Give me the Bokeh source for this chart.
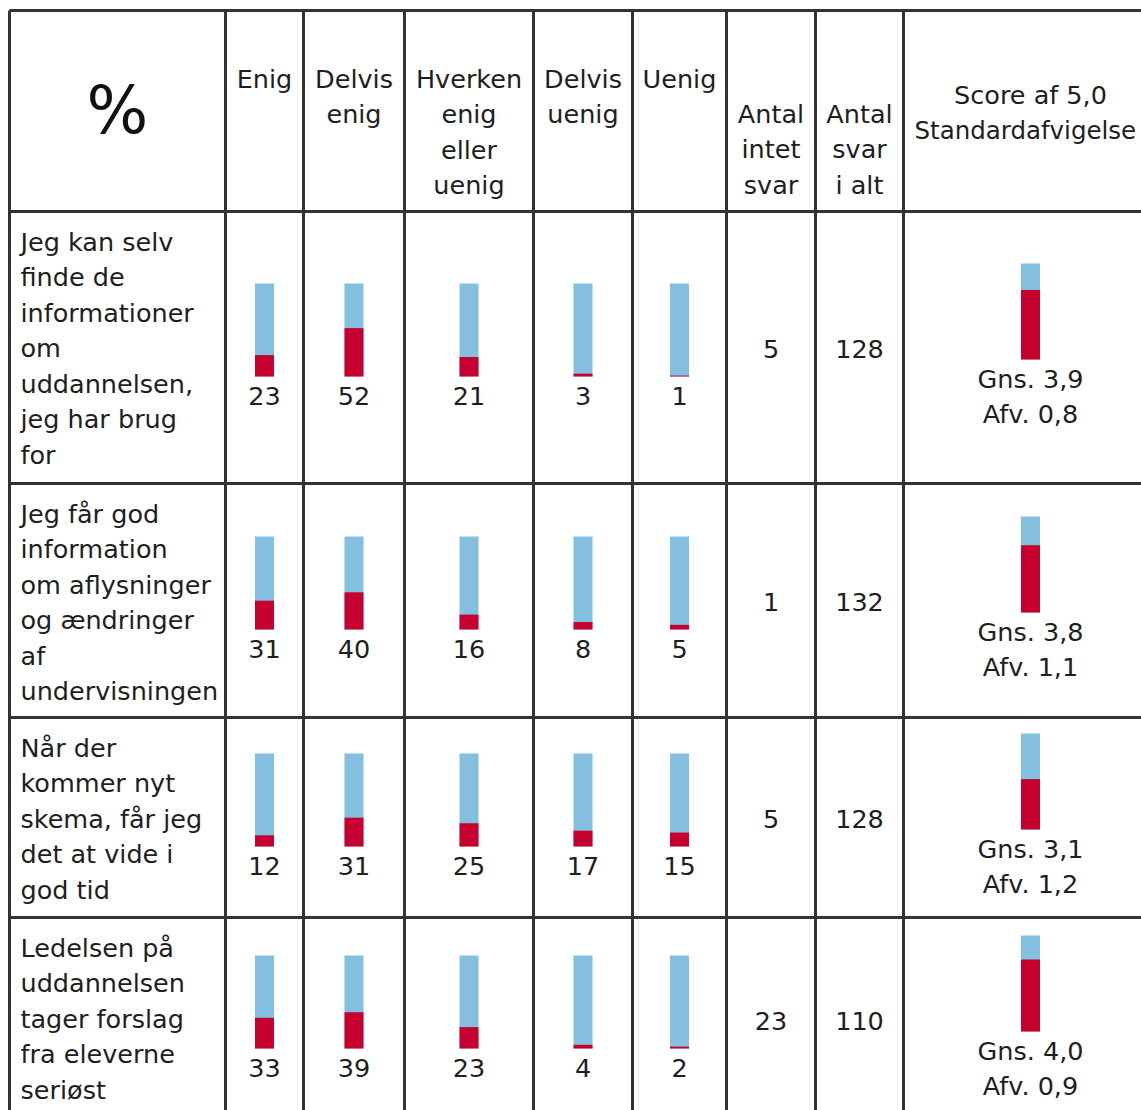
from bokeh.plotting import figure
from bokeh.models import Range1d
from bokeh.core.properties import value
from bokeh.embed import file_html
from bokeh.resources import INLINE

# ---------------- data ----------------
answer_headers = [["Enig"], ["Delvis", "enig"], ["Hverken", "enig", "eller", "uenig"],
                  ["Delvis", "uenig"], ["Uenig"]]
count_headers = [["Antal", "intet", "svar"], ["Antal", "svar", "i alt"]]
score_header = ["Score af 5,0", "Standardafvigelse"]
corner_label = "%"

question_lines = [
    ["Jeg kan selv", "finde de", "informationer", "om", "uddannelsen,", "jeg har brug", "for"],
    ["Jeg får god", "information", "om aflysninger", "og ændringer", "af", "undervisningen"],
    ["Når der", "kommer nyt", "skema, får jeg", "det at vide i", "god tid"],
    ["Ledelsen på", "uddannelsen", "tager forslag", "fra eleverne", "seriøst"],
]

enig = [23, 31, 12, 33]
delvis_enig = [52, 40, 31, 39]
hverken = [21, 16, 25, 23]
delvis_uenig = [3, 8, 17, 4]
uenig = [1, 5, 15, 2]
intet_svar = [5, 1, 5, 23]
svar_i_alt = [128, 132, 128, 110]
gns = [3.9, 3.8, 3.1, 4.0]
afv = [0.8, 1.1, 1.2, 0.9]

# ---------------- layout ----------------
col_edges = [9, 225, 303, 404, 533, 632, 726, 815, 903, 1155]
row_edges = [10, 211, 483, 717, 917, 1121]
LINE_H = 35.5
FONT = value("DejaVu Sans")
FS = value("25.5px")
TXT = "#1e1e1e"
BLUE = "#82bfe1"
RED = "#c8002f"
GRID = "#333333"
BAR_W = 19
BAR_H = 93
SCORE_H = 96

W, H = 1141, 1110
p = figure(width=W, height=H, x_range=Range1d(0, W), y_range=Range1d(H, 0),
           output_backend="svg", toolbar_location=None, min_border=0)
p.axis.visible = False
p.grid.visible = False
p.outline_line_color = None
p.background_fill_color = "white"
p.border_fill_color = "white"

col_centers = [(col_edges[i] + col_edges[i + 1]) / 2 for i in range(len(col_edges) - 1)]
row_centers = [(row_edges[i] + row_edges[i + 1]) / 2 for i in range(len(row_edges) - 1)]

# grid lines
p.segment(x0=col_edges, y0=[row_edges[0]] * len(col_edges), x1=col_edges,
          y1=[row_edges[-1]] * len(col_edges), line_color=GRID, line_width=3)
p.segment(x0=[col_edges[0]] * len(row_edges), y0=row_edges, x1=[col_edges[-1]] * len(row_edges),
          y1=row_edges, line_color=GRID, line_width=3)

# header texts
hx, hy, ht = [], [], []
for ci, lines in enumerate(answer_headers):
    for li, t in enumerate(lines):
        hx.append(col_centers[ci + 1]); hy.append(78 + li * LINE_H); ht.append(t)
for k, lines in enumerate(count_headers):
    n = len(lines)
    for li, t in enumerate(lines):
        hx.append(col_centers[6 + k]); hy.append(184 - (n - 1 - li) * LINE_H); ht.append(t)
hx.append(col_centers[8] + 1); hy.append(94); ht.append(score_header[0])
p.text(x=hx, y=hy, text=ht, text_font=FONT, text_font_size=FS, text_color=TXT,
       text_align="center", text_baseline="middle")
# long second score header line: left-aligned so it stays inside the visible area
p.text(x=[col_edges[8] + 11], y=[94 + LINE_H], text=[score_header[1]], text_font=FONT,
       text_font_size=value("24.5px"), text_color=TXT, text_align="left", text_baseline="middle")
p.text(x=[col_centers[0]], y=[110], text=[corner_label], text_font=FONT,
       text_font_size=value("65px"), text_color="#111111", text_align="center", text_baseline="middle")

# question labels
qx, qy, qt = [], [], []
for ri, lines in enumerate(question_lines):
    for li, t in enumerate(lines):
        qx.append(col_edges[0] + 11); qy.append(row_edges[ri + 1] + 30 + li * LINE_H); qt.append(t)
p.text(x=qx, y=qy, text=qt, text_font=FONT, text_font_size=FS, text_color=TXT,
       text_align="left", text_baseline="middle")

# distribution bars
series = [enig, delvis_enig, hverken, delvis_uenig, uenig]
bl, br, bt, bb, rt = [], [], [], [], []
nx, ny, nt = [], [], []
for si, vals in enumerate(series):
    cx = col_centers[si + 1]
    for ri, v in enumerate(vals):
        c = row_centers[ri + 1]
        bottom = c + 29
        bl.append(cx - BAR_W / 2); br.append(cx + BAR_W / 2)
        bt.append(bottom - BAR_H); bb.append(bottom)
        rt.append(bottom - BAR_H * v / 100)
        nx.append(cx); ny.append(c + 48); nt.append(str(v))
p.quad(left=bl, right=br, top=bt, bottom=bb, fill_color=BLUE, line_color=None)
p.quad(left=bl, right=br, top=rt, bottom=bb, fill_color=RED, line_color=None)

# counts
for k, vals in enumerate([intet_svar, svar_i_alt]):
    for ri, v in enumerate(vals):
        nx.append(col_centers[6 + k]); ny.append(row_centers[ri + 1] + 1); nt.append(str(v))
p.text(x=nx, y=ny, text=nt, text_font=FONT, text_font_size=FS, text_color=TXT,
       text_align="center", text_baseline="middle")

# score bars
sl, sr, st, sb, srt = [], [], [], [], []
gx, gy, gt = [], [], []
cx = col_centers[8] + 1
for ri, (m, s) in enumerate(zip(gns, afv)):
    c = row_centers[ri + 1]
    bottom = c + 12
    sl.append(cx - BAR_W / 2); sr.append(cx + BAR_W / 2)
    st.append(bottom - SCORE_H); sb.append(bottom)
    srt.append(bottom - SCORE_H * (m - 1) / 4)
    gx += [cx, cx]; gy += [c + 31, c + 66]
    gt += ["Gns. " + f"{m:.1f}".replace(".", ","), "Afv. " + f"{s:.1f}".replace(".", ",")]
p.quad(left=sl, right=sr, top=st, bottom=sb, fill_color=BLUE, line_color=None)
p.quad(left=sl, right=sr, top=srt, bottom=sb, fill_color=RED, line_color=None)
p.text(x=gx, y=gy, text=gt, text_font=FONT, text_font_size=FS, text_color=TXT,
       text_align="center", text_baseline="middle")

open("out.html", "w").write(file_html(p, INLINE))
